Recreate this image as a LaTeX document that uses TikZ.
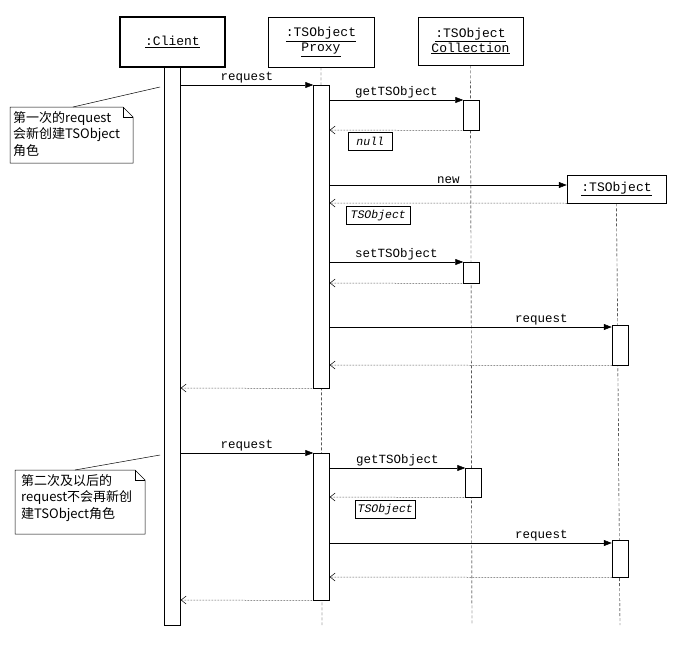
\documentclass[tikz,border=0pt]{standalone}
\usepackage{fontspec}
\setmonofont{Liberation Mono}
\newfontfamily\cjk{Noto Sans CJK SC}
\usetikzlibrary{arrows.meta}
\begin{document}
\begin{tikzpicture}[x=1pt,y=-1pt,
  obj/.style={draw,line width=0.5pt,font=\ttfamily\fontsize{13}{15}\selectfont,align=center,inner sep=0pt},
  act/.style={draw,fill=white,line width=0.5pt,minimum width=16pt,inner sep=0pt,anchor=north},
  life/.style={line width=0.4pt,dash pattern=on 3pt off 2pt},
  msg/.style={-{Triangle[length=8pt,width=6pt]},line width=0.5pt},
  ret/.style={-{Straight Barb[length=5pt,width=8pt]},densely dotted,line width=0.5pt},
  lbl/.style={font=\ttfamily\fontsize{12.5}{14}\selectfont,anchor=south,inner sep=1.5pt},
  rbox/.style={draw,line width=0.5pt,font=\ttfamily\itshape\fontsize{11.5}{13}\selectfont,inner sep=2pt,anchor=north west,minimum height=18pt},
  notetxt/.style={font=\cjk\fontsize{13}{16.5}\selectfont,align=left,anchor=north west,inner sep=0pt}]
\useasboundingbox (0,0) rectangle (691,656);
% objects
\node[obj,line width=1.3pt,minimum width=105pt,minimum height=50pt] (cl) at (172.5,42) {\underline{:Client}};
\node[obj,minimum width=106pt,minimum height=50pt] (px) at (321,42) {\underline{:TSObject}\\\underline{Proxy}};
\node[obj,minimum width=105pt,minimum height=48pt] (co) at (470.5,41) {\underline{:TSObject}\\\underline{Collection}};
\node[obj,minimum width=99pt,minimum height=28pt] (ts) at (616.5,189) {\underline{:TSObject}};
% lifelines
\draw[life] (px.south) -- (322,625) coordinate (pxe);
\draw[life] (co.south) -- (472,625) coordinate (coe);
\draw[life] (ts.south) -- (620,625) coordinate (tse);
% activations
\node[act,minimum height=558pt] (ca) at (172.5,67) {};
\node[act,minimum height=303pt] (pa1) at (321.5,85) {};
\node[act,minimum height=147pt] (pa2) at (321.5,453) {};
\node[act,minimum height=30pt] (ka1) at (471.5,100) {};
\node[act,minimum height=21pt] (ka2) at (471.5,262) {};
\node[act,minimum height=29pt] (ka3) at (473.5,468) {};
\node[act,minimum height=40pt] (ta1) at (620,325) {};
\node[act,minimum height=37pt] (ta2) at (620,540) {};
% first sequence
\draw[msg] (ca.east |- 0,85) -- node[lbl]{request} (pa1.west |- 0,85);
\draw[msg] (pa1.east |- 0,100) -- node[lbl]{getTSObject} (ka1.north west);
\draw[ret] (ka1.south west) -- (pa1.east |- 0,130);
\node[rbox,minimum width=44pt] (r1) at (348,132) {null};
\draw[msg] (pa1.east |- 0,185) -- node[lbl,pos=0.5]{new} (ts.west |- 0,185);
\draw[ret] (ts.south west) -- (pa1.east |- 0,203);
\node[rbox,minimum width=64pt] (r2) at (346,206) {TSObject};
\draw[msg] (pa1.east |- 0,262) -- node[lbl]{setTSObject} (ka2.north west);
\draw[ret] (ka2.south west) -- (pa1.east |- 0,283);
\draw[msg] (pa1.east |- 0,327) -- node[lbl,pos=0.75]{request} (ta1.west |- 0,327);
\draw[ret] (ta1.south west) -- (pa1.east |- 0,365);
\draw[ret] (pa1.south west) -- (ca.east |- 0,388);
% second sequence
\draw[msg] (ca.east |- 0,453) -- node[lbl]{request} (pa2.north west);
\draw[msg] (pa2.east |- 0,468) -- node[lbl]{getTSObject} (ka3.north west);
\draw[ret] (ka3.south west) -- (pa2.east |- 0,497);
\node[rbox,minimum width=60pt] (r3) at (355,500) {TSObject};
\draw[msg] (pa2.east |- 0,543) -- node[lbl,pos=0.75]{request} (ta2.west |- 0,543);
\draw[ret] (ta2.south west) -- (pa2.east |- 0,577);
\draw[ret] (pa2.south west) -- (ca.east |- 0,600);
% notes
\draw[line width=0.5pt,fill=white] (10,107) -- (123,107) -- (133,117) -- (133,163) -- (10,163) -- cycle;
\draw[line width=0.5pt] (123,107) -- (123,117) -- (133,117);
\node[notetxt] (n1) at (13,111) {第一次的request\\会新创建TSObject\\角色};
\draw[line width=0.5pt] (73,107) -- (160,87);
\draw[line width=0.5pt,fill=white] (15,470) -- (135,470) -- (145,480) -- (145,534) -- (15,534) -- cycle;
\draw[line width=0.5pt] (135,470) -- (135,480) -- (145,480);
\node[notetxt] (n2) at (21,474) {第二次及以后的\\request不会再新创\\建TSObject角色};
\draw[line width=0.5pt] (75,470) -- (160,455);
\end{tikzpicture}
\end{document}
